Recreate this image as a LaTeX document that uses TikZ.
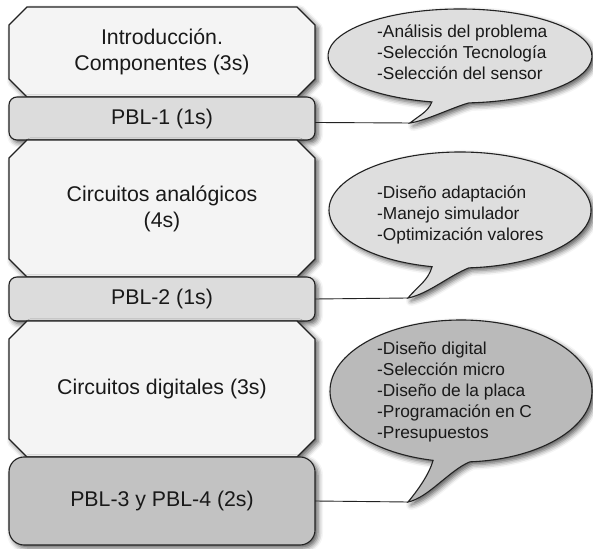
\documentclass[tikz,border=0pt]{standalone}
\usepackage{fontspec}
\setmainfont{Liberation Sans}
\usepackage{tikz}
\usetikzlibrary{positioning,shapes.misc,shadows.blur}
\definecolor{stagefill}{HTML}{F4F4F4}
\definecolor{pblfill}{HTML}{DCDCDC}
\definecolor{pbldark}{HTML}{C2C2C2}
\definecolor{notefill}{HTML}{DEDEDE}
\definecolor{notedark}{HTML}{BABABA}
\definecolor{edge}{HTML}{222222}
\tikzset{%
	softshadow/.style = {blur shadow={shadow xshift=3pt, shadow yshift=-3pt, shadow blur radius=5pt, shadow opacity=65}},
	stage/.style    = {draw=edge, fill=stagefill, chamfered rectangle, chamfered rectangle xsep=9pt, chamfered rectangle ysep=9pt, minimum width=306pt, inner sep=0pt, outer sep=0pt, align=center, line width=1.1pt, softshadow}, % Block
	pbl/.style      = {draw=edge, fill=pblfill, rectangle, rounded corners=8pt, minimum width=306pt, inner sep=0pt, outer sep=0pt, align=center, line width=1.1pt, softshadow}, % Project
	note/.style     = {draw=edge, fill=notefill, line width=1.1pt, softshadow}, % Callout
	notetext/.style = {inner sep=0pt, anchor=west, align=left, font=\fontsize{17.3}{21}\selectfont}, % Callout text
	link/.style     = {draw=edge, line width=0.9pt},
}
\begin{document}
\begin{tikzpicture}[x=1pt, y=1pt, font=\fontsize{21.3}{26}\selectfont, text=black!90]
	\useasboundingbox (0,0) rectangle (593,548);
	% column of blocks
	\node[stage, minimum height=90pt] (intro) at (162,496) {Introducción.\\Componentes (3s)};
	\node[pbl, below=0pt of intro, minimum height=43pt] (pbl1) {PBL-1 (1s)};
	\node[stage, below=0pt of pbl1, minimum height=137pt] (analog) {Circuitos analógicos\\(4s)};
	\node[pbl, below=0pt of analog, minimum height=44pt] (pbl2) {PBL-2 (1s)};
	\node[stage, below=0pt of pbl2, minimum height=136pt] (digital) {Circuitos digitales (3s)};
	\node[pbl, fill=pbldark, rounded corners=15pt, below=0pt of digital, minimum height=88pt] (pbl34) {PBL-3 y PBL-4 (2s)};
	% tips of the callouts
	\coordinate (tip1) at (410,425);
	\coordinate (tip2) at (408,250);
	\coordinate (tip3) at (408,46);
	% callouts
	\filldraw[note] (460,492) ++(273.9:132 and 47) coordinate (r1)
		arc[start angle=273.9, end angle=617.7, x radius=132, y radius=47]
		.. controls +(-4,-10) and +(10,8) .. (tip1)
		.. controls +(15,2) and +(-15,-4) .. (r1) -- cycle;
	\filldraw[note] (460,338) ++(273.9:131 and 58) coordinate (r2)
		arc[start angle=273.9, end angle=617.7, x radius=131, y radius=58]
		.. controls +(-4,-14) and +(10,12) .. (tip2)
		.. controls +(20,4) and +(-20,-8) .. (r2) -- cycle;
	\filldraw[note, fill=notedark] (461,157) ++(273.9:131 and 71) coordinate (r3)
		arc[start angle=273.9, end angle=617.7, x radius=131, y radius=71]
		.. controls +(-4,-14) and +(10,12) .. (tip3)
		.. controls +(20,4) and +(-20,-8) .. (r3) -- cycle;
	\node[notetext] (note1) at (377,495.5) {-Análisis del problema\\-Selección Tecnología\\-Selección del sensor};
	\node[notetext] (note2) at (377,333) {-Diseño adaptación\\-Manejo simulador\\-Optimización valores};
	\node[notetext] (note3) at (377,156) {-Diseño digital\\-Selección micro\\-Diseño de la placa\\-Programación en C\\-Presupuestos};
	% links from the blocks
	\draw[link] ([yshift=-4pt]pbl1.east) -- (tip1);
	\draw[link] (pbl2.east) -- (tip2);
	\draw[link] (pbl34.east) -- (tip3);
\end{tikzpicture}
\end{document}
